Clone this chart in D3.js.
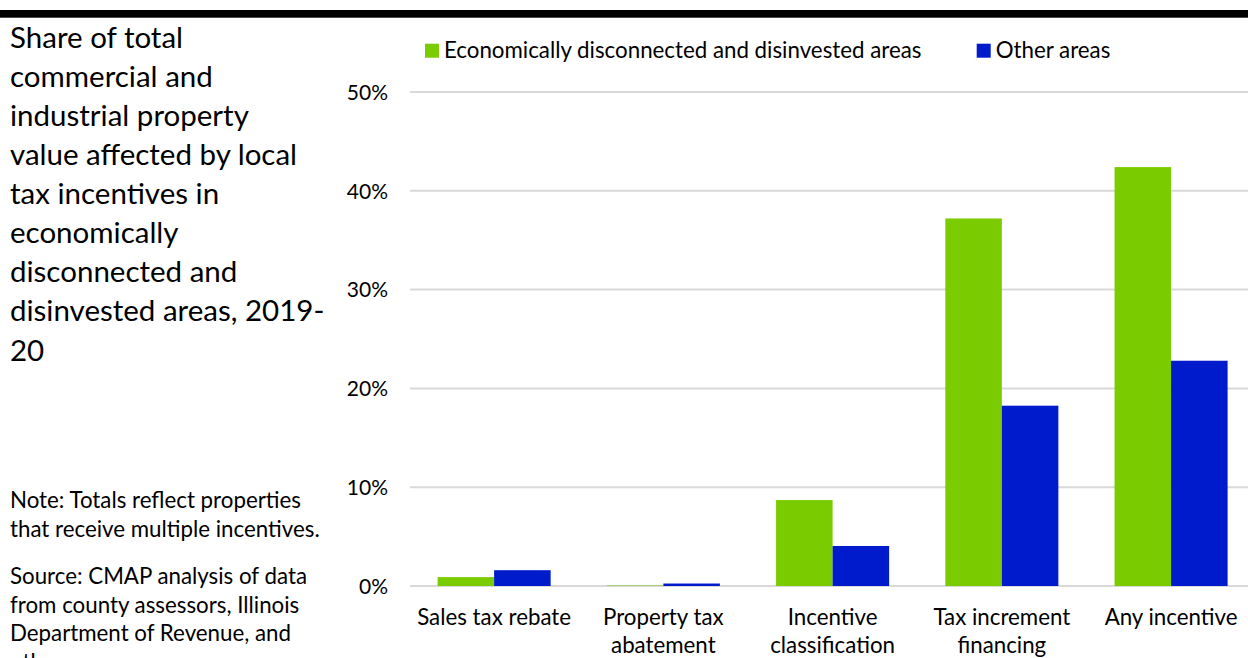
<!DOCTYPE html>
<html><head><meta charset="utf-8">
<script src="https://cdn.jsdelivr.net/npm/d3@7"></script>
<style>
html,body{margin:0;padding:0;background:#fff;overflow:hidden;}
svg{display:block;font-family:Lato, "Open Sans", sans-serif;}
</style></head>
<body>
<svg id="chart" width="1248" height="658"></svg>
<script>
const categories = ["Sales tax rebate", "Property tax abatement", "Incentive classification", "Tax increment financing", "Any incentive"];
const categoryLines = [["Sales tax rebate"], ["Property tax", "abatement"], ["Incentive", "classification"], ["Tax increment", "financing"], ["Any incentive"]];
const seriesNames = ["Economically disconnected and disinvested areas", "Other areas"];
const disinvestedValues = [0.9, 0.05, 8.7, 37.2, 42.4];
const otherValues = [1.6, 0.25, 4.05, 18.25, 22.8];
const yTicks = [0, 10, 20, 30, 40, 50];
const titleLines = ["Share of total", "commercial and", "industrial property", "value affected by local", "tax incentives in", "economically", "disconnected and", "disinvested areas, 2019-", "20"];
const noteLines = ["Note: Totals reflect properties", "that receive multiple incentives."];
const sourceLines = ["Source: CMAP analysis of data", "from county assessors, Illinois", "Department of Revenue, and", "others."];
const colors = ["#7ACC00", "#001BCC"];

const svg = d3.select("#chart");
const W = 1248, H = 658;

// top rule
svg.append("rect").attr("x", 0).attr("y", 10).attr("width", W).attr("height", 7.7).attr("fill", "#000");

// title
const titleFs = 29.5;
svg.append("g").selectAll("text").data(titleLines).join("text")
  .attr("x", 10).attr("y", (d, i) => 47.7 + i * 39.1)
  .attr("font-size", titleFs).attr("fill", "#000").text(d => d);

// notes
const noteFs = 22.3;
svg.append("g").selectAll("text").data(noteLines).join("text")
  .attr("x", 10).attr("y", (d, i) => 508 + i * 28.5)
  .attr("font-size", noteFs).attr("fill", "#000").text(d => d);
svg.append("g").selectAll("text").data(sourceLines).join("text")
  .attr("x", 10).attr("y", (d, i) => 584 + i * 28.5)
  .attr("font-size", noteFs).attr("fill", "#000").text(d => d);

// scales
const x = d3.scaleBand().domain(categories).range([409.5, 1255.7]).paddingInner(0.332).paddingOuter(0.166);
const xs = d3.scaleBand().domain(seriesNames).range([0, x.bandwidth()]).padding(0);
const y = d3.scaleLinear().domain([0, 50]).range([586, 92]);

// gridlines
svg.append("g").selectAll("line").data(yTicks).join("line")
  .attr("x1", 410).attr("x2", W)
  .attr("y1", d => y(d)).attr("y2", d => y(d))
  .attr("stroke", "#d9d9d9").attr("stroke-width", 2);

// y axis labels
const yAxis = d3.axisLeft(y).tickValues(yTicks).tickFormat(d => d + "%").tickSize(0).tickPadding(0);
const yg = svg.append("g").attr("transform", "translate(388,0)").call(yAxis);
yg.select(".domain").remove();
yg.selectAll("text").attr("font-size", 21).attr("font-family", "Lato, 'Open Sans', sans-serif").attr("fill", "#000").attr("dy", "0.35em");

// bars
const series = [disinvestedValues, otherValues];
series.forEach((vals, si) => {
  svg.append("g").selectAll("rect").data(vals).join("rect")
    .attr("x", (d, i) => x(categories[i]) + xs(seriesNames[si]))
    .attr("width", xs.bandwidth())
    .attr("y", d => y(d))
    .attr("height", d => y(0) - y(d))
    .attr("fill", colors[si]);
});

// x labels
const xl = svg.append("g");
categories.forEach((c, i) => {
  const cx = x(c) + x.bandwidth() / 2;
  xl.append("text").attr("x", cx).attr("y", 624.5).attr("text-anchor", "middle")
    .attr("font-size", 22.3).attr("fill", "#000")
    .selectAll("tspan").data(categoryLines[i]).join("tspan")
    .attr("x", cx).attr("dy", (d, j) => j === 0 ? 0 : 28.5).text(d => d);
});

// legend
const legendX = [425, 976.7];
seriesNames.forEach((s, i) => {
  svg.append("rect").attr("x", legendX[i]).attr("y", 43.7).attr("width", 14).attr("height", 14).attr("fill", colors[i]);
  svg.append("text").attr("x", legendX[i] + 19).attr("y", 57.7).attr("font-size", 22.3).attr("fill", "#000").text(s);
});
</script>
</body></html>
